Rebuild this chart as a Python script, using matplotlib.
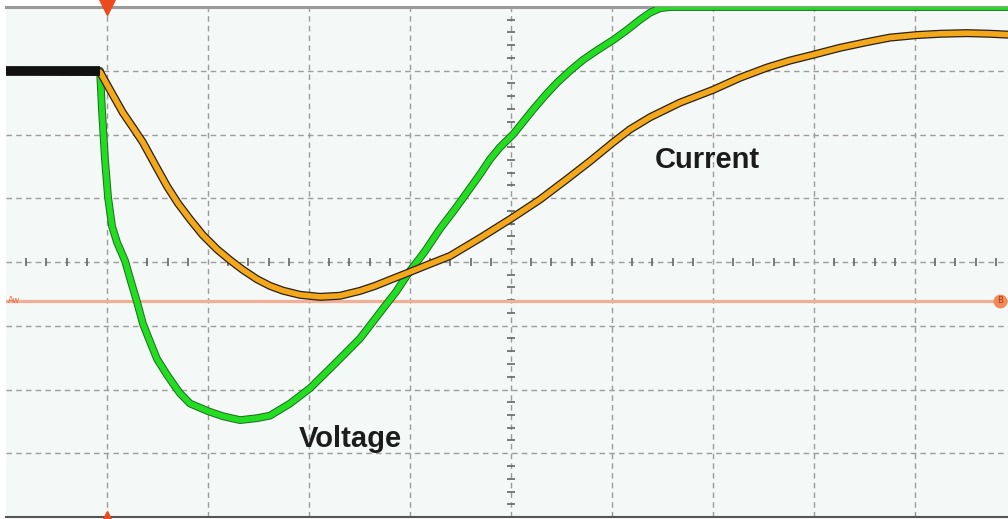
import numpy as np
import matplotlib
matplotlib.use("Agg")
from matplotlib import pyplot as plt
from matplotlib import patheffects as pe

# scope screen: 10 x 8 divisions, trigger at 1 div
t_volt = [0.0, 0.931, 0.950, 0.980, 1.010, 1.050, 1.099, 1.178, 1.238, 1.297, 1.356, 1.426,
          1.495, 1.594, 1.673, 1.723, 1.822, 2.0, 2.149, 2.317, 2.485, 2.614, 2.812, 3.010,
          3.238, 3.505, 3.733, 3.861, 4.0, 4.149, 4.297, 4.446, 4.564, 4.693, 4.792, 4.891,
          5.020, 5.218, 5.337, 5.455, 5.584, 5.713, 5.861, 6.010, 6.149, 6.277, 6.376, 6.475,
          6.574, 10.0]
voltage = [3.0, 3.0, 2.39, 1.61, 1.02, 0.56, 0.31, 0.02, -0.31, -0.625, -0.97, -1.25,
           -1.52, -1.77, -1.95, -2.06, -2.22, -2.34, -2.42, -2.48, -2.45, -2.41, -2.22, -1.98,
           -1.625, -1.20, -0.73, -0.47, -0.14, 0.17, 0.52, 0.83, 1.09, 1.375, 1.61, 1.80,
           2.0, 2.39, 2.61, 2.81, 3.0, 3.17, 3.33, 3.48, 3.64, 3.80, 3.91, 3.98,
           4.0, 4.0]

t_curr = [0.0, 0.931, 1.030, 1.158, 1.257, 1.356, 1.475, 1.594, 1.703, 1.822, 1.950, 2.089,
          2.218, 2.347, 2.485, 2.614, 2.743, 2.911, 3.109, 3.307, 3.505, 3.653, 3.802, 4.0,
          4.198, 4.396, 4.693, 4.990, 5.287, 5.554, 5.782, 6.010, 6.178, 6.376, 6.673, 7.0,
          7.267, 7.535, 7.762, 7.990, 8.257, 8.525, 8.752, 9.020, 9.248, 9.515, 9.743, 10.0]
current = [3.0, 2.98, 2.70, 2.34, 2.11, 1.875, 1.53, 1.19, 0.92, 0.67, 0.42, 0.20,
           0.03, -0.125, -0.27, -0.375, -0.45, -0.515, -0.547, -0.53, -0.453, -0.375, -0.28, -0.156,
           -0.03, 0.094, 0.375, 0.67, 0.98, 1.30, 1.58, 1.875, 2.08, 2.27, 2.50, 2.70,
           2.89, 3.05, 3.16, 3.25, 3.36, 3.45, 3.52, 3.56, 3.58, 3.59, 3.58, 3.56]

pretrig_t = [0.0, 0.931]
pretrig_y = [3.0, 3.0]
ref_level = -0.61
trig_pos = 1.0

fig = plt.figure(figsize=(10.08, 5.19), dpi=100)
ax = fig.add_axes([6/1008, 2/519, 1010/1008, 510/519])
ax.set_facecolor("#f4f8f6")
ax.set_xlim(0, 10)
ax.set_ylim(-4, 4)

# graticule
ax.set_xticks(np.arange(1, 10))
ax.set_yticks(np.arange(-3, 4))
ax.tick_params(length=0, labelbottom=False, labelleft=False)
ax.grid(True, color="#9c9c9c", linewidth=1.0, linestyle=(0, (4, 3)))
for s in ("left", "right"):
    ax.spines[s].set_visible(False)
ax.spines["top"].set_color("#9a9a9a")
ax.spines["top"].set_linewidth(2.2)
ax.spines["bottom"].set_color("#555555")
ax.spines["bottom"].set_linewidth(1.5)

# minor marks on the centre lines
xm = [v for v in np.arange(0.2, 10, 0.2) if abs(v - round(v)) > 1e-6]
ym = [v for v in np.arange(-3.8, 4, 0.2) if abs(v - round(v)) > 1e-6]
ax.plot(xm, np.zeros(len(xm)), linestyle="none", marker="|", markersize=6,
        markeredgewidth=1.2, color="#666666", zorder=2)
ax.plot(np.full(len(ym), 5.0), ym, linestyle="none", marker="_", markersize=6,
        markeredgewidth=1.2, color="#666666", zorder=2)

# reference level
ax.axhline(ref_level, color="#f2ae96", linewidth=2.3, zorder=3)
ax.text(0.02, ref_level, "Aw", color="#e8703c", fontsize=6, va="center", ha="left", zorder=4)
ax.plot([9.84], [ref_level], marker="o", markersize=9, color="#f08a5a", zorder=4)
ax.text(9.84, ref_level, "B", color="#b03a0c", fontsize=6, va="center", ha="center", zorder=5)

# traces
ax.plot(t_volt, voltage, color="#22dd22", linewidth=4.2, zorder=6, solid_joinstyle="round",
        path_effects=[pe.Stroke(linewidth=5.6, foreground="#1d6a1d"), pe.Normal()])
ax.plot(t_curr, current, color="#f2a81a", linewidth=4.0, zorder=7, solid_joinstyle="round",
        path_effects=[pe.Stroke(linewidth=5.8, foreground="#2a2010"), pe.Normal()])
ax.plot(pretrig_t, pretrig_y, color="#111111", linewidth=7, solid_capstyle="butt", zorder=8)

# trigger markers
ax.plot([trig_pos], [4.0], marker="v", markersize=11, color="#ec4a1e", clip_on=False, zorder=9)
ax.plot([trig_pos], [-4.0], marker="^", markersize=9, color="#ec4a1e", clip_on=False, zorder=9)

ax.text(3.406, -2.906, "Voltage", fontsize=21, fontweight="bold", family="Liberation Sans",
        color="#1c1c1c", ha="center", va="baseline", zorder=10)
ax.text(6.946, 1.469, "Current", fontsize=21, fontweight="bold", family="Liberation Sans",
        color="#1c1c1c", ha="center", va="baseline", zorder=10)

fig.savefig("out.png", dpi=100, facecolor="white")
